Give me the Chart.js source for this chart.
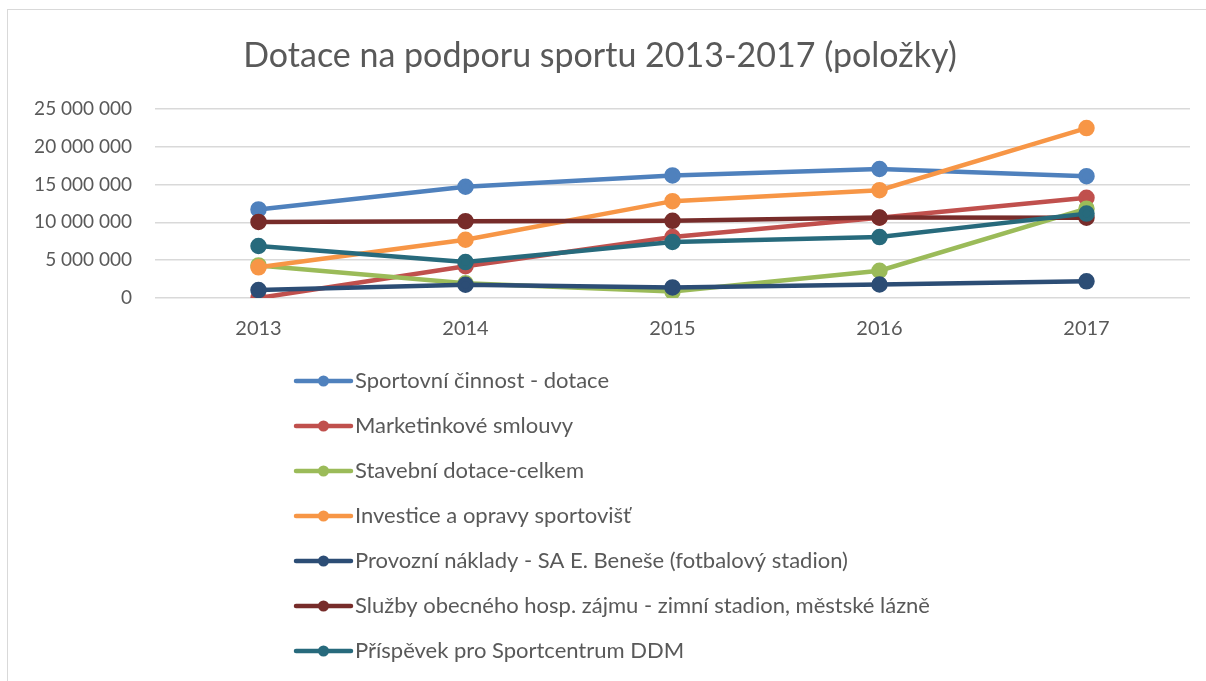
<!DOCTYPE html>
<html>
<head>
<meta charset="utf-8">
<script src="https://cdn.jsdelivr.net/npm/chart.js@4"></script>
<style>
  body { margin: 0; background: #fff; }
  #wrap { position: relative; width: 1206px; height: 681px; }
  #frame { position: absolute; left: 7px; top: 9px; right: 0; bottom: 0;
           border-left: 1.5px solid #d9d9d9; border-top: 1.5px solid #d9d9d9; }
  canvas { position: absolute; left: 0; top: 0; }
</style>
</head>
<body>
<div id="wrap">
  <div id="frame"></div>
  <canvas id="myChart" width="1206" height="681"></canvas>
</div>
<script>
// roky
let years = ['2013', '2014', '2015', '2016', '2017'];

// polozky (hodnoty v Kc)
let sportovniCinnost = [11700000, 14700000, 16200000, 17050000, 16100000];
let marketing = [0, 4200000, 8050000, 10600000, 13250000];
let stavebni = [4300000, 1950000, 850000, 3600000, 11800000];
let investice = [4050000, 7700000, 12800000, 14250000, 22450000];
let provozni = [1050000, 1750000, 1400000, 1780000, 2200000];
let sluzby = [10050000, 10150000, 10200000, 10640000, 10600000];
let prispevek = [6870000, 4750000, 7400000, 8050000, 11150000];

let seriesNames = [
  'Sportovní činnost - dotace',
  'Marketinkové smlouvy',
  'Stavební dotace-celkem',
  'Investice a opravy sportovišť',
  'Provozní náklady - SA E. Beneše (fotbalový stadion)',
  'Služby obecného hosp. zájmu - zimní stadion, městské lázně',
  'Příspěvek pro Sportcentrum DDM'
];
let seriesValues = [sportovniCinnost, marketing, stavebni, investice, provozni, sluzby, prispevek];
let colors = ['#4F81BD', '#C0504D', '#9BBB59', '#F79646', '#2C4D75', '#772C2A', '#276A7C'];

let fontFamily = 'Lato, "Open Sans", sans-serif';
let textColor = '#595959';

let datasets = seriesValues.map(function (vals, i) {
  return {
    label: seriesNames[i],
    data: vals,
    borderColor: colors[i],
    backgroundColor: colors[i],
    pointBackgroundColor: colors[i],
    pointBorderColor: colors[i],
    borderWidth: 4.5,
    pointRadius: 6,
    pointHoverRadius: 6,
    tension: 0,
    order: seriesValues.length - i
  };
});

// legenda pod grafem, jedna polozka na radek
let listLegend = {
  id: 'listLegend',
  afterDraw: function (chart) {
    let ctx = chart.ctx;
    ctx.save();
    ctx.font = '22px ' + fontFamily;
    let maxW = 0;
    seriesNames.forEach(function (n) { maxW = Math.max(maxW, ctx.measureText(n).width); });
    let lineW = 55;
    let gap = 4;
    let blockW = lineW + gap + maxW;
    let x0 = Math.round(613 - blockW / 2);
    let y0 = 381;
    let step = 45;
    seriesNames.forEach(function (n, i) {
      let y = y0 + i * step;
      ctx.strokeStyle = colors[i];
      ctx.lineWidth = 4.5;
      ctx.lineCap = 'round';
      ctx.beginPath();
      ctx.moveTo(x0, y);
      ctx.lineTo(x0 + lineW, y);
      ctx.stroke();
      ctx.fillStyle = colors[i];
      ctx.beginPath();
      ctx.arc(x0 + lineW / 2, y, 5.5, 0, Math.PI * 2);
      ctx.fill();
      ctx.fillStyle = textColor;
      ctx.textBaseline = 'middle';
      ctx.textAlign = 'left';
      ctx.fillText(n, x0 + lineW + gap, y);
    });
    ctx.restore();
  }
};

let ctxChart = document.getElementById('myChart');
let myChart = new Chart(ctxChart, {
  type: 'line',
  data: {
    labels: years,
    datasets: datasets
  },
  options: {
    responsive: false,
    animation: false,
    layout: {
      padding: { left: 10, right: 16, top: 36, bottom: 321 }
    },
    plugins: {
      legend: { display: false },
      tooltip: { enabled: false },
      title: {
        display: true,
        text: 'Dotace na podporu sportu 2013-2017 (položky)',
        color: textColor,
        font: { family: fontFamily, size: 34, weight: 'normal' },
        padding: { top: 0, bottom: 32 }
      }
    },
    scales: {
      x: {
        offset: true,
        grid: { display: false, drawTicks: false },
        border: { display: false },
        ticks: {
          color: textColor,
          padding: 19,
          font: { family: fontFamily, size: 20 }
        }
      },
      y: {
        min: 0,
        max: 25000000,
        afterFit: function (scale) { scale.width = 145; },
        grid: { color: '#d9d9d9', lineWidth: 1.5, drawTicks: false },
        border: { display: false },
        ticks: {
          stepSize: 5000000,
          color: textColor,
          padding: 23,
          font: { family: fontFamily, size: 19 },
          callback: function (v) {
            return v.toLocaleString('en-US').replace(/,/g, ' ');
          }
        }
      }
    }
  },
  plugins: [listLegend]
});
</script>
</body>
</html>
